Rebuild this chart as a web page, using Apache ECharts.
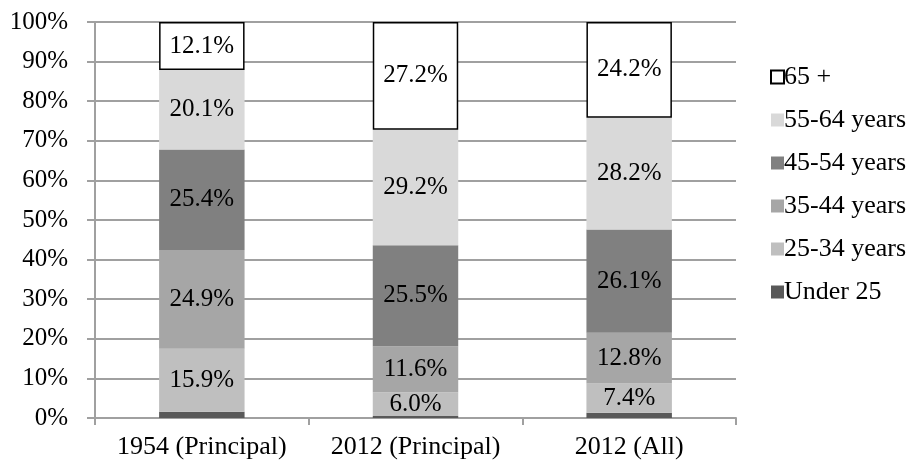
<!DOCTYPE html>
<html>
<head>
<meta charset="utf-8">
<script src="https://cdn.jsdelivr.net/npm/echarts@6/dist/echarts.min.js"></script>
<style>
  html, body { margin: 0; padding: 0; background: #fff; }
  #chart { width: 911px; height: 462px; }
</style>
</head>
<body>
<div id="chart"></div>
<script>
// Age distribution of farm operators (share of total, %)
const categories = ['1954 (Principal)', '2012 (Principal)', '2012 (All)'];
const seriesNames = ['Under 25', '25-34 years', '35-44 years', '45-54 years', '55-64 years', '65 +'];
const under25 = [1.6, 0.5, 1.3];
const age25to34 = [15.9, 6.0, 7.4];
const age35to44 = [24.9, 11.6, 12.8];
const age45to54 = [25.4, 25.5, 26.1];
const age55to64 = [20.1, 29.2, 28.2];
const age65plus = [12.1, 27.2, 24.2];
const yTicks = [0, 10, 20, 30, 40, 50, 60, 70, 80, 90, 100];

const values = [under25, age25to34, age35to44, age45to54, age55to64, age65plus];
const fills = ['#595959', '#bfbfbf', '#a6a6a6', '#808080', '#d9d9d9', '#ffffff'];
const showLabel = [false, true, true, true, true, true];

const font = '"Liberation Serif", "Times New Roman", serif';

const series = values.map((v, i) => ({
  name: seriesNames[i],
  type: 'bar',
  stack: 'total',
  barWidth: '40%',
  data: v,
  itemStyle: i === 5
    ? { color: fills[i], borderColor: '#000', borderWidth: 1.5 }
    : { color: fills[i] },
  label: {
    show: showLabel[i],
    position: 'inside',
    formatter: p => p.value.toFixed(1) + '%',
    color: '#000',
    fontFamily: font,
    fontSize: 25
  },
  emphasis: { disabled: true }
}));

const chart = echarts.init(document.getElementById('chart'), null, { renderer: 'canvas' });
chart.setOption({
  animation: false,
  backgroundColor: '#fff',
  grid: { left: 95, right: 175, top: 22, bottom: 44, containLabel: false },
  legend: {
    orient: 'vertical',
    left: 765,
    top: 59,
    itemWidth: 13,
    itemHeight: 13,
    itemGap: 17,
    icon: 'rect',
    data: seriesNames.slice().reverse(),
    textStyle: { fontFamily: font, fontSize: 26, color: '#000', padding: [0, 0, 0, -5] }
  },
  xAxis: {
    type: 'category',
    data: categories,
    axisLine: { show: true, lineStyle: { color: '#a0a0a0', width: 2 } },
    axisTick: { show: true, length: 7, lineStyle: { color: '#a0a0a0', width: 2 } },
    axisLabel: {
      interval: 0,
      hideOverlap: false,
      fontFamily: font,
      fontSize: 26,
      color: '#000',
      margin: 16
    }
  },
  yAxis: {
    type: 'value',
    min: yTicks[0],
    max: yTicks[yTicks.length - 1],
    interval: yTicks[1] - yTicks[0],
    axisLine: { show: true, lineStyle: { color: '#a0a0a0', width: 2 } },
    axisTick: { show: true, length: 8, lineStyle: { color: '#a0a0a0', width: 2 } },
    splitLine: { show: true, lineStyle: { color: '#a0a0a0', width: 2 } },
    axisLabel: { fontFamily: font, fontSize: 25, color: '#000', margin: 27, formatter: v => v + '%' }
  },
  series: series
});
</script>
</body>
</html>
